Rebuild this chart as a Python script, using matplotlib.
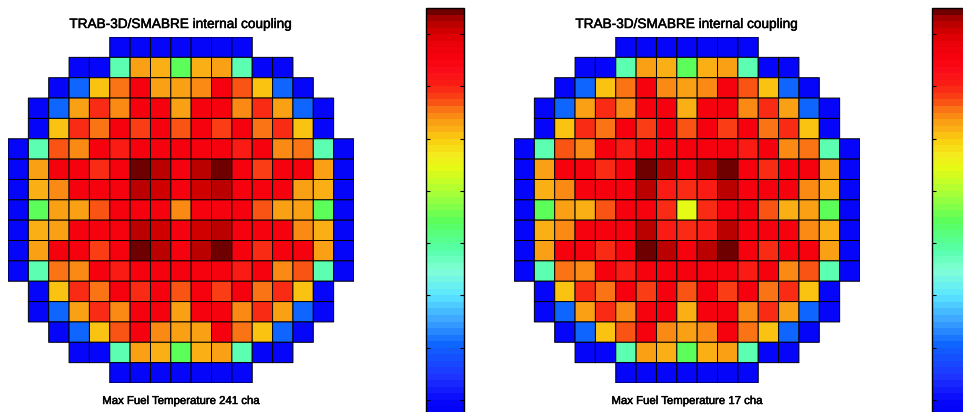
import numpy as np
import matplotlib
matplotlib.use("Agg")
import matplotlib.pyplot as plt
import matplotlib.patheffects as pe
from matplotlib.colors import LinearSegmentedColormap, Normalize

_ = None

title = "TRAB-3D/SMABRE internal coupling"
labels = ["Max Fuel Temperature 241 cha", "Max Fuel Temperature 17 cha"]

cbar_ticks = [400, 600, 800, 1000, 1200, 1400, 1600, 1800]
vmin, vmax = 300, 1900

# Fuel temperature per channel (17x17 core map, None = no channel)
temp_241 = [
    [_, _, _, _, _, 380, 380, 380, 380, 380, 380, 380, _, _, _, _, _],
    [_, _, _, 380, 380, 972, 1468, 1436, 1084, 1436, 1468, 972, 380, 380, _, _, _],
    [_, _, 380, 604, 1404, 1524, 1708, 1468, 1468, 1492, 1708, 1540, 1404, 604, 380, _, _],
    [_, 380, 604, 1468, 1580, 1492, 1708, 1708, 1468, 1708, 1708, 1492, 1580, 1468, 604, 380, _],
    [_, 380, 1404, 1580, 1524, 1708, 1556, 1708, 1540, 1708, 1556, 1708, 1524, 1580, 1404, 380, _],
    [380, 972, 1540, 1492, 1708, 1612, 1708, 1708, 1708, 1708, 1708, 1612, 1708, 1492, 1524, 972, 380],
    [380, 1468, 1708, 1708, 1580, 1708, 1876, 1836, 1708, 1836, 1876, 1708, 1556, 1708, 1708, 1468, 380],
    [380, 1436, 1492, 1708, 1708, 1708, 1836, 1820, 1708, 1820, 1836, 1708, 1708, 1708, 1468, 1436, 380],
    [380, 1084, 1468, 1468, 1540, 1708, 1708, 1708, 1492, 1708, 1708, 1708, 1540, 1468, 1468, 1084, 380],
    [380, 1436, 1468, 1708, 1708, 1708, 1836, 1820, 1708, 1820, 1836, 1708, 1708, 1708, 1492, 1436, 380],
    [380, 1468, 1708, 1708, 1556, 1708, 1876, 1836, 1708, 1836, 1876, 1708, 1580, 1708, 1708, 1468, 380],
    [380, 972, 1524, 1492, 1708, 1612, 1708, 1708, 1708, 1708, 1708, 1612, 1708, 1492, 1540, 972, 380],
    [_, 380, 1404, 1580, 1524, 1708, 1580, 1708, 1540, 1708, 1556, 1708, 1524, 1580, 1404, 380, _],
    [_, 380, 604, 1468, 1580, 1492, 1708, 1708, 1468, 1708, 1708, 1492, 1580, 1468, 604, 380, _],
    [_, _, 380, 604, 1404, 1540, 1708, 1492, 1468, 1468, 1708, 1524, 1404, 604, 380, _, _],
    [_, _, _, 380, 380, 972, 1468, 1436, 1084, 1436, 1468, 972, 380, 380, _, _, _],
    [_, _, _, _, _, 380, 380, 380, 380, 380, 380, 380, _, _, _, _, _],
]

temp_17 = [
    [_, _, _, _, _, 380, 380, 380, 380, 380, 380, 380, _, _, _, _, _],
    [_, _, _, 380, 380, 972, 1468, 1436, 1084, 1436, 1468, 972, 380, 380, _, _, _],
    [_, _, 380, 604, 1404, 1524, 1708, 1492, 1468, 1492, 1708, 1540, 1404, 604, 380, _, _],
    [_, 380, 604, 1468, 1580, 1492, 1708, 1708, 1436, 1708, 1708, 1492, 1580, 1468, 604, 380, _],
    [_, 380, 1404, 1580, 1524, 1708, 1556, 1708, 1540, 1708, 1556, 1708, 1524, 1580, 1404, 380, _],
    [380, 972, 1540, 1492, 1708, 1612, 1708, 1708, 1708, 1708, 1708, 1612, 1708, 1492, 1524, 972, 380],
    [380, 1468, 1708, 1708, 1580, 1708, 1876, 1836, 1708, 1836, 1876, 1708, 1580, 1708, 1708, 1468, 380],
    [380, 1436, 1492, 1708, 1708, 1708, 1836, 1612, 1580, 1612, 1836, 1708, 1708, 1708, 1492, 1436, 380],
    [380, 1084, 1468, 1436, 1540, 1708, 1708, 1580, 1292, 1580, 1708, 1708, 1540, 1436, 1468, 1084, 380],
    [380, 1436, 1492, 1708, 1708, 1708, 1836, 1612, 1580, 1612, 1836, 1708, 1708, 1708, 1492, 1436, 380],
    [380, 1468, 1708, 1708, 1580, 1708, 1876, 1836, 1708, 1836, 1876, 1708, 1580, 1708, 1708, 1468, 380],
    [380, 972, 1524, 1492, 1708, 1612, 1708, 1708, 1708, 1708, 1708, 1612, 1708, 1492, 1540, 972, 380],
    [_, 380, 1404, 1580, 1524, 1708, 1556, 1708, 1540, 1708, 1556, 1708, 1524, 1580, 1404, 380, _],
    [_, 380, 604, 1468, 1580, 1492, 1708, 1708, 1436, 1708, 1708, 1492, 1580, 1468, 604, 380, _],
    [_, _, 380, 604, 1404, 1540, 1708, 1492, 1468, 1492, 1708, 1524, 1404, 604, 380, _, _],
    [_, _, _, 380, 380, 972, 1468, 1436, 1084, 1436, 1468, 972, 380, 380, _, _, _],
    [_, _, _, _, _, 380, 380, 380, 380, 380, 380, 380, _, _, _, _, _],
]

# colormap (64 levels, MATLAB-like)
stops = [
    (0.00, (0, 0, 240)), (0.05, (5, 5, 250)), (0.11, (30, 50, 255)),
    (0.19, (15, 100, 255)), (0.25, (60, 165, 255)), (0.31, (90, 230, 255)),
    (0.37, (130, 255, 215)), (0.42, (85, 255, 170)), (0.49, (90, 255, 90)),
    (0.56, (170, 255, 55)), (0.62, (230, 250, 20)), (0.65, (245, 235, 30)),
    (0.69, (250, 205, 15)), (0.71, (250, 180, 20)), (0.73, (250, 160, 20)),
    (0.745, (250, 140, 20)), (0.765, (250, 110, 20)), (0.775, (250, 90, 20)),
    (0.785, (250, 70, 20)), (0.80, (250, 55, 20)), (0.82, (250, 30, 20)),
    (0.86, (250, 10, 25)), (0.88, (250, 3, 15)), (0.93, (230, 0, 8)),
    (0.95, (210, 0, 0)), (0.96, (200, 0, 0)), (0.985, (160, 0, 0)),
    (1.00, (110, 0, 0)),
]
cmap = LinearSegmentedColormap.from_list(
    "core", [(p, tuple(c / 255 for c in rgb)) for p, rgb in stops], N=64)
norm = Normalize(vmin=vmin, vmax=vmax)

W, H = 963, 412
fig = plt.figure(figsize=(W / 100, H / 100), dpi=100)
fig.patch.set_facecolor("white")

font = ["Liberation Sans", "DejaVu Sans"]
heavy = [pe.withStroke(linewidth=0.35, foreground="black")]

panels = [(temp_241, labels[0], 8), (temp_17, labels[1], 514)]
for data, lab, x0 in panels:
    arr = np.ma.masked_invalid(np.array(data, dtype=float))
    ax = fig.add_axes([x0 / W, (H - 383) / H, 346 / W, 346 / H])
    m = ax.pcolor(arr, cmap=cmap, norm=norm, edgecolors="black",
                  linewidth=0.7)
    ax.set_xlim(0, arr.shape[1])
    ax.set_ylim(arr.shape[0], 0)
    ax.set_axis_off()
    ax.text(0.5, 1 + 13 / 346, title, transform=ax.transAxes, ha="center",
            va="center", fontsize=9.8, family=font, path_effects=heavy)
    ax.text(0.5, -18 / 346, lab, transform=ax.transAxes, ha="center",
            va="center", fontsize=8.2, family=font, path_effects=heavy)

    cax = fig.add_axes([(x0 + 418) / W, (H - 426) / H, 38 / W, 418 / H])
    cb = fig.colorbar(m, cax=cax)
    cb.set_ticks(cbar_ticks)
    cax.tick_params(direction="in", left=True, right=True, labelleft=False,
                    labelright=False, length=3, width=0.8)
    cb.outline.set_linewidth(1.0)

fig.savefig("out.png", dpi=100, facecolor="white")
